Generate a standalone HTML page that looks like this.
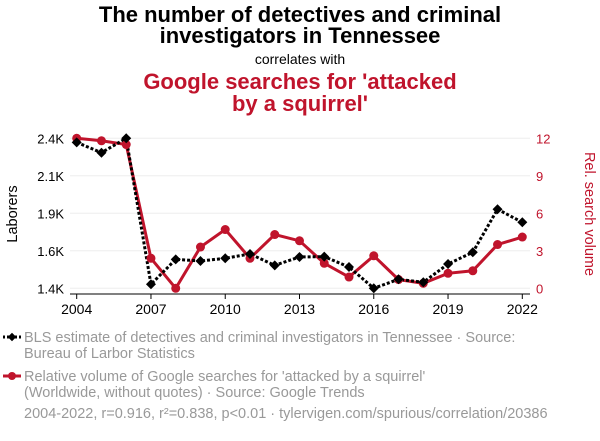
<!DOCTYPE html>
<html><head><meta charset="utf-8"><style>
body{margin:0;width:600px;height:436px;background:#fff;font-family:"Liberation Sans",sans-serif;overflow:hidden}
svg text{font-family:"Liberation Sans",sans-serif}
</style></head><body>
<svg id="c" width="600" height="436">
<text x="300" y="22" text-anchor="middle" font-size="22" font-weight="bold" fill="#000">The number of detectives and criminal</text>
<text x="300" y="43" text-anchor="middle" font-size="22" font-weight="bold" fill="#000">investigators in Tennessee</text>
<text x="300" y="64" text-anchor="middle" font-size="14" fill="#000">correlates with</text>
<text x="300" y="89" text-anchor="middle" font-size="22" font-weight="bold" fill="#c0142c">Google searches for 'attacked</text>
<text x="300" y="111" text-anchor="middle" font-size="22" font-weight="bold" fill="#c0142c">by a squirrel'</text>
<g id="grid"></g><g id="axes"></g><g id="marks"></g>
<text transform="translate(17,214) rotate(-90)" text-anchor="middle" font-size="14.5" fill="#000">Laborers</text>
<text transform="translate(585,214) rotate(90)" text-anchor="middle" font-size="14.5" fill="#c0142c">Rel. search volume</text>
<g>
<line x1="3" y1="337" x2="21" y2="337" stroke="#000" stroke-width="3" stroke-dasharray="2,2"/>
<rect x="9" y="334" width="6" height="6" fill="#000" transform="rotate(45 12 337)"/>
<text x="24" y="342" font-size="14.5" fill="#999">BLS estimate of detectives and criminal investigators in Tennessee · Source:</text>
<text x="24" y="358" font-size="14.5" fill="#999">Bureau of Larbor Statistics</text></g>
<g>
<line x1="3" y1="376" x2="21" y2="376" stroke="#c0142c" stroke-width="3"/>
<circle cx="12" cy="376" r="4" fill="#c0142c"/>
<text x="24" y="381" font-size="14.5" fill="#999">Relative volume of Google searches for 'attacked by a squirrel'</text>
<text x="24" y="397" font-size="14.5" fill="#999">(Worldwide, without quotes) · Source: Google Trends</text></g>
<text x="24" y="418" font-size="14.5" fill="#999">2004-2022, r=0.916, r²=0.838, p&lt;0.01 · tylervigen.com/spurious/correlation/20386</text>
</svg>
<script>
const years=[2004,2005,2006,2007,2008,2009,2010,2011,2012,2013,2014,2015,2016,2017,2018,2019,2020,2021,2022];
const laborers=[2373,2304,2400,1427,1593,1582,1600,1629,1553,1609,1611,1542,1400,1460,1440,1562,1640,1927,1840];
const searches=[12,11.8,11.5,2.4,0,3.3,4.7,2.4,4.3,3.8,2.0,0.9,2.6,0.7,0.4,1.2,1.4,3.5,4.1];
const leftTicks=[1400,1650,1900,2150,2400];
const leftLabels=["1.4K","1.6K","1.9K","2.1K","2.4K"];
const rightTicks=[0,3,6,9,12];
const xTicks=[2004,2007,2010,2013,2016,2019,2022];
const NS="http://www.w3.org/2000/svg";
const X=y=>76.7+(y-2004)*(522.3-76.7)/18;
const YL=v=>288.3-(v-1400)/1000*150;
const YR=v=>288.3-v/12*150;
function mk(t,a,p){const e=document.createElementNS(NS,t);for(const k in a)e.setAttribute(k,a[k]);document.getElementById(p).appendChild(e);return e;}
leftTicks.forEach((v,i)=>{
 const g=mk('line',{x1:70,x2:530,y1:YL(v),y2:YL(v),stroke:'#eee','stroke-width':1},'grid');
 
 
 const t=mk('text',{x:64,y:YL(v)+5,'text-anchor':'end','font-size':13,fill:'#000'},'axes');t.textContent=leftLabels[i];
 
 
});
rightTicks.forEach(v=>{
 const t=mk('text',{x:536,y:YR(v)+5,'font-size':13,fill:'#c0142c'},'axes');t.textContent=v;
 
 
});
mk('line',{x1:70,x2:530,y1:294,y2:294,stroke:'#000','stroke-width':1},'axes');
xTicks.forEach(y=>{
 mk('line',{x1:X(y),x2:X(y),y1:294,y2:299,stroke:'#000'},'axes');
 const t=mk('text',{x:X(y),y:314,'text-anchor':'middle','font-size':14,fill:'#000'},'axes');t.textContent=y;
 
 
});
const rl=mk('polyline',{points:years.map((y,i)=>X(y)+','+YR(searches[i])).join(' '),fill:'none',stroke:'#c0142c','stroke-width':3},'marks');


const bl=mk('polyline',{points:years.map((y,i)=>X(y)+','+YL(laborers[i])).join(' '),fill:'none',stroke:'#000','stroke-width':3,'stroke-dasharray':'3,2'},'marks');


years.forEach((y,i)=>{
 const c=mk('circle',{cx:X(y),cy:YR(searches[i]),r:4.5,fill:'#c0142c'},'marks');
 
 
 const x=X(y),yy=YL(laborers[i]);
 const d=mk('polygon',{points:`${x},${yy-5} ${x+5},${yy} ${x},${yy+5} ${x-5},${yy}`,fill:'#000'},'marks');
 
 
});
</script>
</body></html>
